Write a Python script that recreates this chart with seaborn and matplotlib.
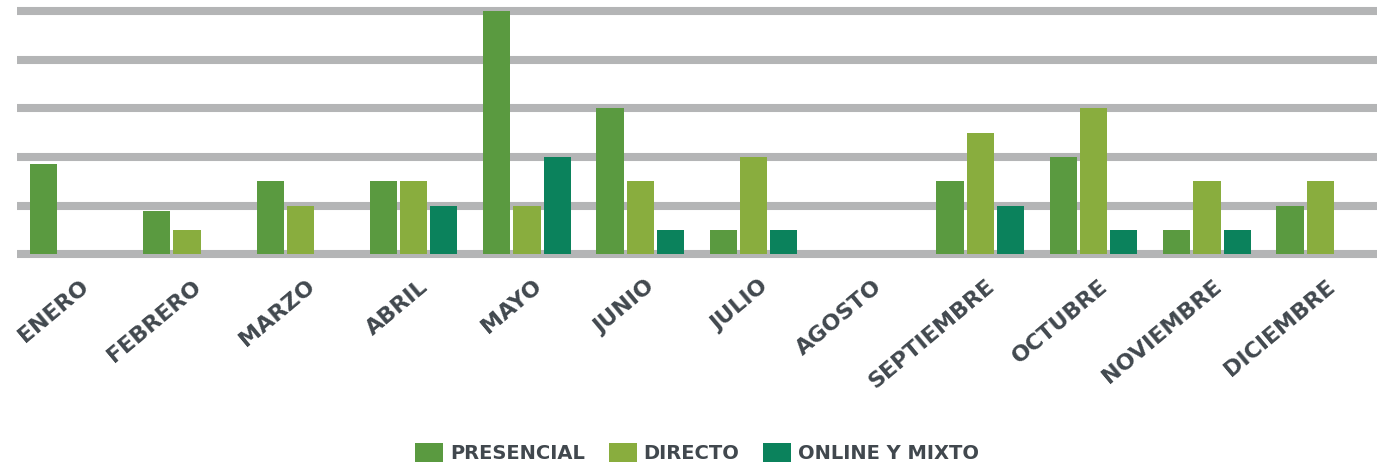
import matplotlib
matplotlib.use("Agg")
import matplotlib.pyplot as plt
from matplotlib.transforms import ScaledTranslation
import seaborn as sns
import pandas as pd

months = ["ENERO", "FEBRERO", "MARZO", "ABRIL", "MAYO", "JUNIO", "JULIO",
          "AGOSTO", "SEPTIEMBRE", "OCTUBRE", "NOVIEMBRE", "DICIEMBRE"]
series_names = ["PRESENCIAL", "DIRECTO", "ONLINE Y MIXTO"]
presencial = [3.7, 1.8, 3, 3, 10, 6, 1, 0, 3, 4, 1, 2]
directo = [0, 1, 2, 3, 2, 3, 4, 0, 5, 6, 3, 3]
online_mixto = [0, 0, 0, 2, 4, 1, 1, 0, 2, 1, 1, 0]
grid_values = [0, 2, 4, 6, 8, 10]

colors = ["#5a9a40", "#89ad3e", "#0b825c"]
text_color = "#41484e"

rows = []
for name, vals in zip(series_names, [presencial, directo, online_mixto]):
    for m, v in zip(months, vals):
        rows.append({"mes": m, "serie": name, "valor": v})
df = pd.DataFrame(rows)

sns.set_theme(style="white")
plt.rcParams["font.family"] = ["DejaVu Sans"]

fig = plt.figure(figsize=(13.86, 4.68), dpi=100)
ax = fig.add_axes([0.01227, 0.4410, 0.9812, 0.5511])

sns.barplot(data=df, x="mes", y="valor", hue="serie", order=months,
            hue_order=series_names, palette=colors, gap=0.1,
            linewidth=0, saturation=1, ax=ax, errorbar=None)

ax.set_xlim(-0.5, len(months) - 0.5)
ax.set_ylim(-0.3, 10.3)
ax.set_yticks(grid_values)
ax.set_yticklabels([])
ax.yaxis.grid(True, color="#b4b5b6", linewidth=5.8)
ax.xaxis.grid(False)
ax.set_axisbelow(True)
for s in ax.spines.values():
    s.set_visible(False)
ax.set_xlabel("")
ax.set_ylabel("")
ax.tick_params(axis="both", length=0)
ax.tick_params(axis="x", pad=16)

ax.set_xticks(range(len(months)))
ax.set_xticklabels(months, rotation=40, ha="right", va="center",
                   rotation_mode="anchor", fontsize=16, fontweight="bold",
                   color=text_color)
offset = ScaledTranslation(0.12, 0, fig.dpi_scale_trans)
for lab in ax.get_xticklabels():
    lab.set_transform(lab.get_transform() + offset)

handles, labels = ax.get_legend_handles_labels()
if ax.legend_ is not None:
    ax.legend_.remove()
leg = fig.legend(handles, labels, loc="center", bbox_to_anchor=(0.503, 0.032),
                 ncol=3, frameon=False, handlelength=1.44, handleheight=1.13,
                 handletextpad=0.36, columnspacing=1.2,
                 prop={"size": 14, "weight": "bold"})
for t in leg.get_texts():
    t.set_color(text_color)

fig.savefig("out.png", dpi=100)
